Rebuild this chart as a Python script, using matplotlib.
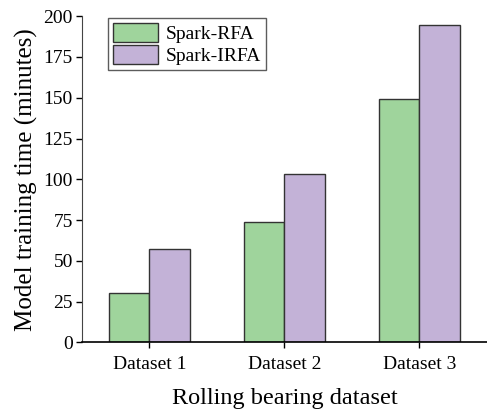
import matplotlib
matplotlib.use("Agg")
import matplotlib.pyplot as plt
import numpy as np

plt.rcParams['font.family'] = ['Liberation Serif', 'DejaVu Serif']

datasets = ['Dataset 1', 'Dataset 2', 'Dataset 3']
series_names = ['Spark-RFA', 'Spark-IRFA']
rfa_times = [30.5, 74, 149.5]
irfa_times = [57, 103.5, 194.5]
y_ticks = [0, 25, 50, 75, 100, 125, 150, 175, 200]

fig = plt.figure(figsize=(4.87, 4.15), dpi=100)
ax = fig.add_axes([0.168, 0.175, 0.832, 0.786])

x = np.arange(len(datasets))
width = 0.3
ax.bar(x - width / 2, rfa_times, width, color='#9fd49c', edgecolor='#333333',
       linewidth=1.0, label=series_names[0])
ax.bar(x + width / 2, irfa_times, width, color='#c3b2d7', edgecolor='#333333',
       linewidth=1.0, label=series_names[1])

ax.set_xlim(-0.5, 2.5)
ax.set_ylim(0, 200)
ax.set_xticks(x)
ax.set_xticklabels(datasets)
ax.set_yticks(y_ticks)

ax.spines['top'].set_visible(False)
ax.spines['right'].set_visible(False)
ax.spines['left'].set_color('#444444')
ax.spines['bottom'].set_linewidth(1.2)
ax.tick_params(axis='both', direction='out', length=4.5, width=1, labelsize=14)
ax.tick_params(axis='x', pad=5)
ax.tick_params(axis='y', pad=2)

ax.set_xlabel('Rolling bearing dataset', fontsize=17.5, labelpad=11)
ax.set_ylabel('Model training time (minutes)', fontsize=18, labelpad=4)

leg = ax.legend(loc='upper left', bbox_to_anchor=(0.065, 0.994), fontsize=14,
                frameon=True, fancybox=False, edgecolor='#333333',
                handlelength=2.3, handleheight=1.1, labelspacing=0.1,
                handletextpad=0.4, borderpad=0.25, borderaxespad=0.0)
leg.get_frame().set_linewidth(1.0)

plt.savefig('out.png', dpi=100)
